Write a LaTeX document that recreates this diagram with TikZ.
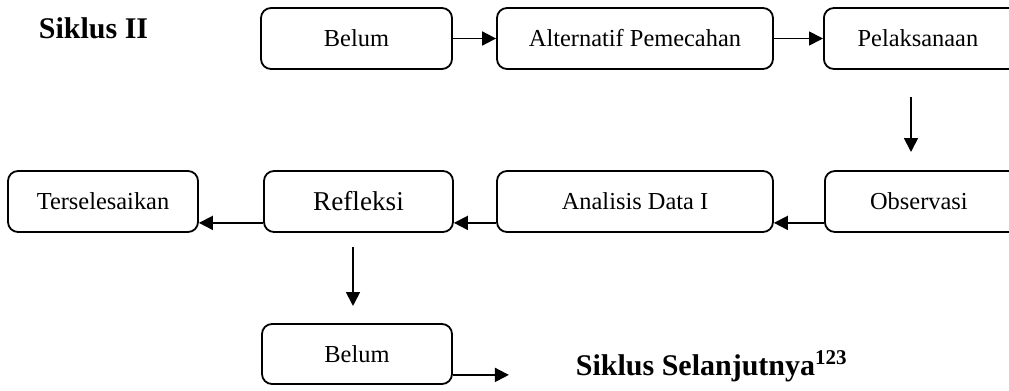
\documentclass[tikz,border=0pt]{standalone}
\usepackage{fontspec}
\setmainfont{Liberation Serif}
\usetikzlibrary{arrows.meta}

\begin{document}
\begin{tikzpicture}[x=0.5pt,y=-0.5pt,>={Triangle[length=7pt,width=7pt]},line width=0.9pt,
  every node/.style={font=\fontsize{12.2}{14}\selectfont},
  box/.style={draw,rounded corners=5pt,minimum height=30.5pt,inner sep=0pt},
  title/.style={anchor=base west,inner sep=0pt,font=\fontsize{15}{18}\selectfont\bfseries}]
\useasboundingbox (0,0) rectangle (1009,391);
\node[title] (siklus) at (38,39){Siklus II};
\node[box,minimum width=95.5pt] (belum) at (356.5,38.5){Belum};
\node[box,minimum width=138pt] (alt) at (635,38.5){Alternatif Pemecahan};
\node[box,minimum width=100pt,anchor=west] (pel) at (823,38.5){\hspace*{-6pt}Pelaksanaan};
\draw[->] (belum)--(alt);
\draw[->] (alt)--(pel);
\coordinate (p1) at (911,97);
\coordinate (p2) at (911,152);
\draw[->] (p1)--(p2);
\node[box,minimum width=95pt] (ters) at (103,201.5){Terselesaikan};
\node[box,minimum width=94.5pt,font=\fontsize{13.6}{16}\selectfont] (refl) at (358.5,201.5){Refleksi};
\node[box,minimum width=138pt] (anal) at (635,201.5){Analisis Data I};
\node[box,minimum width=100pt,anchor=west] (obs) at (824,201.5){\hspace*{-6pt}Observasi};
\draw[->] ([yshift=5pt]obs.south west)--([yshift=5pt]anal.south east);
\draw[->] ([yshift=5pt]anal.south west)--([yshift=5pt]refl.south east);
\draw[->] ([yshift=5pt]refl.south west)--([yshift=5pt]ters.south east);
\coordinate (r1) at (353,247);
\coordinate (r2) at (353,306);
\draw[->] (r1)--(r2);
\node[box,minimum width=95pt,minimum height=30pt] (belumb) at (357,354){Belum};
\draw[->] ([yshift=5pt]belumb.south east)--++(56,0) coordinate (nx);
\node[title] (next) at (575,375){Siklus Selanjutnya\textsuperscript{123}};
\end{tikzpicture}
\end{document}
